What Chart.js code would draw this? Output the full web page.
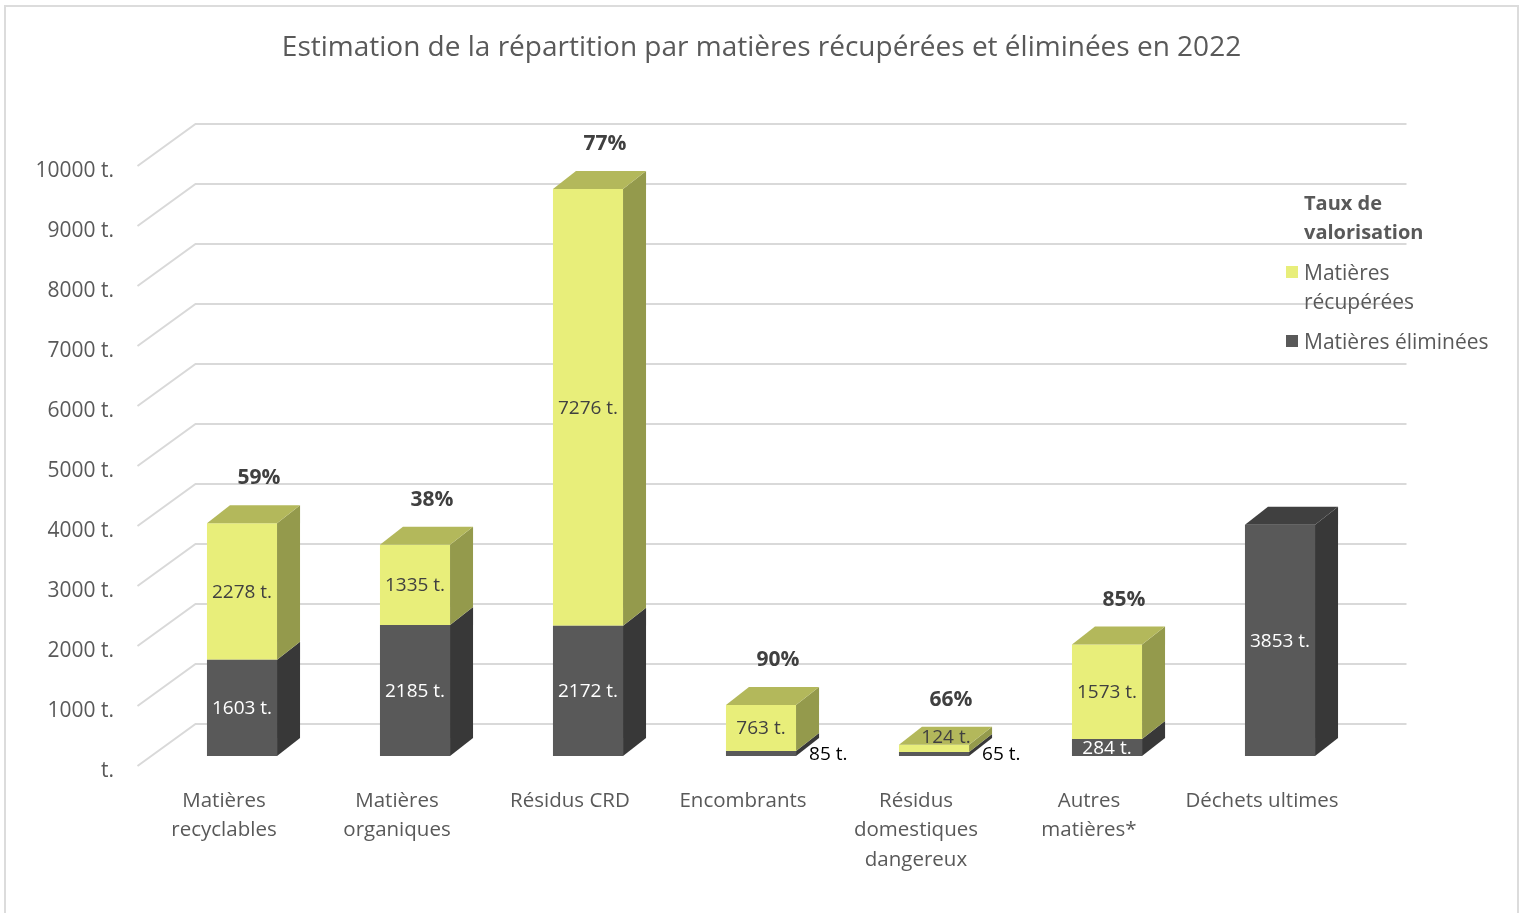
<!DOCTYPE html>
<html lang="fr">
<head>
<meta charset="utf-8">
<title>Répartition par matières 2022</title>
<script src="https://cdn.jsdelivr.net/npm/chart.js@4.4.1/dist/chart.umd.min.js"></script>
<style>
  html, body { margin: 0; padding: 0; background: #fff; }
  #wrap { position: relative; width: 1523px; height: 913px; overflow: hidden; font-family: 'Open Sans', sans-serif; }
  #frame { position: absolute; left: 4px; top: 5px; width: 1515px; height: 920px; border: 2px solid #dcdcdc; box-sizing: border-box; }
  #chart { position: absolute; left: 0; top: 0; }
  #legend { position: absolute; left: 1286px; top: 188px; color: #595959; font-size: 21px; line-height: 29px; }
  #legend .ttl { font-weight: bold; font-size: 20px; padding-left: 18px; margin-bottom: 12px; }
  #legend .item { position: relative; padding-left: 18px; margin-bottom: 11px; }
  #legend .sw { position: absolute; left: 0; top: 8px; width: 12px; height: 12px; }
</style>
</head>
<body>
<div id="wrap">
  <div id="frame"></div>
  <canvas id="chart" width="1523" height="913"></canvas>
  <div id="legend"></div>
</div>
<script>
// categories and values
const categories = [
  ['Matières', 'recyclables'],
  ['Matières', 'organiques'],
  'Résidus CRD',
  'Encombrants',
  ['Résidus', 'domestiques', 'dangereux'],
  ['Autres', 'matières*'],
  'Déchets ultimes',
];
const eliminees = [1603, 2185, 2172, 85, 65, 284, 3853];
const recuperees = [2278, 1335, 7276, 763, 124, 1573, 0];
const tauxValorisation = ['59%', '38%', '77%', '90%', '66%', '85%', ''];
const yMax = 10000;
const yStep = 1000;

const FONT = "'Open Sans', sans-serif";
const GRID = '#d9d9d9';
// front / top / side shades for the fake 3D boxes
const SHADES = [
  { front: '#595959', top: '#404040', side: '#383838', label: '#ffffff' },
  { front: '#e8ee7a', top: '#b3b85b', side: '#949a4c', label: '#404040' },
];
const DEPTH_X = 23, DEPTH_Y = 18;      // bar depth
const WALL_X = 58, WALL_Y = 42;        // full floor depth
const BAR_IN_X = 18, BAR_IN_Y = 10;    // bars sit this far behind the front edge

const grid3d = {
  id: 'grid3d',
  beforeDatasetsDraw(chart) {
    const { ctx, scales: { x, y } } = chart;
    const left = x.left - BAR_IN_X;
    const right = x.right - BAR_IN_X + WALL_X;
    ctx.save();
    ctx.strokeStyle = GRID;
    ctx.lineWidth = 2;
    for (let v = 0; v <= yMax; v += yStep) {
      const py = y.getPixelForValue(v);
      const fy = py + BAR_IN_Y;
      const by = fy - WALL_Y;
      ctx.beginPath();
      ctx.moveTo(left, fy);
      ctx.lineTo(left + WALL_X, by);
      ctx.lineTo(right, by);
      ctx.stroke();
    }
    ctx.restore();
  },
  afterDatasetsDraw(chart) {
    const { ctx } = chart;
    const metas = [chart.getDatasetMeta(0), chart.getDatasetMeta(1)];
    ctx.save();
    categories.forEach((c, i) => {
      let topEl = null, topDs = -1;
      metas.forEach((meta, d) => {
        const val = chart.data.datasets[d].data[i];
        if (!val) return;
        const el = meta.data[i];
        const { x, y, base, width } = el.getProps(['x', 'y', 'base', 'width'], true);
        const r = x + width / 2;
        ctx.fillStyle = SHADES[d].side;
        ctx.beginPath();
        ctx.moveTo(r, y);
        ctx.lineTo(r + DEPTH_X, y - DEPTH_Y);
        ctx.lineTo(r + DEPTH_X, base - DEPTH_Y);
        ctx.lineTo(r, base);
        ctx.closePath();
        ctx.fill();
        if (!topEl || y < topEl.y) { topEl = { x, y, width }; topDs = d; }
      });
      if (topEl) {
        const l = topEl.x - topEl.width / 2, r = topEl.x + topEl.width / 2;
        ctx.fillStyle = SHADES[topDs].top;
        ctx.beginPath();
        ctx.moveTo(l, topEl.y);
        ctx.lineTo(l + DEPTH_X, topEl.y - DEPTH_Y);
        ctx.lineTo(r + DEPTH_X, topEl.y - DEPTH_Y);
        ctx.lineTo(r, topEl.y);
        ctx.closePath();
        ctx.fill();
        if (tauxValorisation[i]) {
          ctx.fillStyle = '#404040';
          ctx.font = 'bold 21px ' + FONT;
          ctx.textAlign = 'center';
          ctx.textBaseline = 'middle';
          ctx.fillText(tauxValorisation[i], topEl.x + 17, topEl.y - 45);
        }
      }
    });

    // value labels
    ctx.font = '19px ' + FONT;
    ctx.textBaseline = 'middle';
    metas.forEach((meta, d) => {
      meta.data.forEach((el, i) => {
        const val = chart.data.datasets[d].data[i];
        if (!val) return;
        const { x, y, base, width } = el.getProps(['x', 'y', 'base', 'width'], true);
        const h = base - y;
        const txt = val + ' t.';
        if (h >= 14) {
          ctx.textAlign = 'center';
          ctx.fillStyle = SHADES[d].label;
          ctx.fillText(txt, x, (y + base) / 2 + 1);
        } else if (d === 0) {
          ctx.textAlign = 'left';
          ctx.fillStyle = '#000';
          ctx.fillText(txt, x + width / 2 + 13, base - 1);
        } else {
          ctx.textAlign = 'center';
          ctx.fillStyle = '#404040';
          ctx.fillText(txt, x + 12, y - 7);
        }
      });
    });
    ctx.restore();
  },
};

const chart = new Chart(document.getElementById('chart'), {
  type: 'bar',
  data: {
    labels: categories,
    datasets: [
      { label: 'Matières éliminées', data: eliminees, backgroundColor: SHADES[0].front, stack: 's' },
      { label: 'Matières récupérées', data: recuperees, backgroundColor: SHADES[1].front, stack: 's' },
    ],
  },
  options: {
    responsive: false,
    animation: false,
    categoryPercentage: 1,
    barPercentage: 0.405,
    layout: { padding: 0 },
    plugins: {
      legend: { display: false },
      tooltip: { enabled: false },
      title: {
        display: true,
        text: 'Estimation de la répartition par matières récupérées et éliminées en 2022',
        color: '#595959',
        font: { family: FONT, size: 28, weight: 'normal', lineHeight: 1.2 },
        padding: { top: 31, bottom: 91.4 },
      },
    },
    scales: {
      x: {
        stacked: true,
        grid: { display: false, drawTicks: false },
        border: { display: false },
        ticks: { color: '#595959', font: { family: FONT, size: 20.5, lineHeight: 1.44 }, padding: 30, labelOffset: -BAR_IN_X, maxRotation: 0, autoSkip: false },
        afterFit(scale) { scale.height = 157; },
      },
      y: {
        stacked: true,
        min: 0,
        max: yMax,
        grid: { display: false, drawTicks: false },
        border: { display: false },
        ticks: {
          stepSize: yStep,
          color: '#595959',
          font: { family: FONT, size: 21 },
          padding: 41.5,
          labelOffset: 15,
          callback: (v) => (v === 0 ? '' : v) + ' t.',
        },
        afterFit(scale) { scale.width = 155.5; },
      },
      // empty right-hand axis keeping room for the legend, so the title stays centred on the page
      side: {
        position: 'right',
        display: true,
        grid: { display: false, drawTicks: false },
        border: { display: false },
        ticks: { display: false },
        afterFit(scale) { scale.width = 156.5; },
      },
    },
  },
  plugins: [grid3d],
});

// legend: title + items built from the datasets (top series first)
const legendEl = document.getElementById('legend');
let html = '<div class="ttl">Taux de<br>valorisation</div>';
[1, 0].forEach((d) => {
  const ds = chart.data.datasets[d];
  const text = d === 1 ? 'Matières<br>récupérées' : ds.label;
  html += '<div class="item"><span class="sw" style="background:' + ds.backgroundColor + '"></span>' + text + '</div>';
});
legendEl.innerHTML = html;
</script>
</body>
</html>
